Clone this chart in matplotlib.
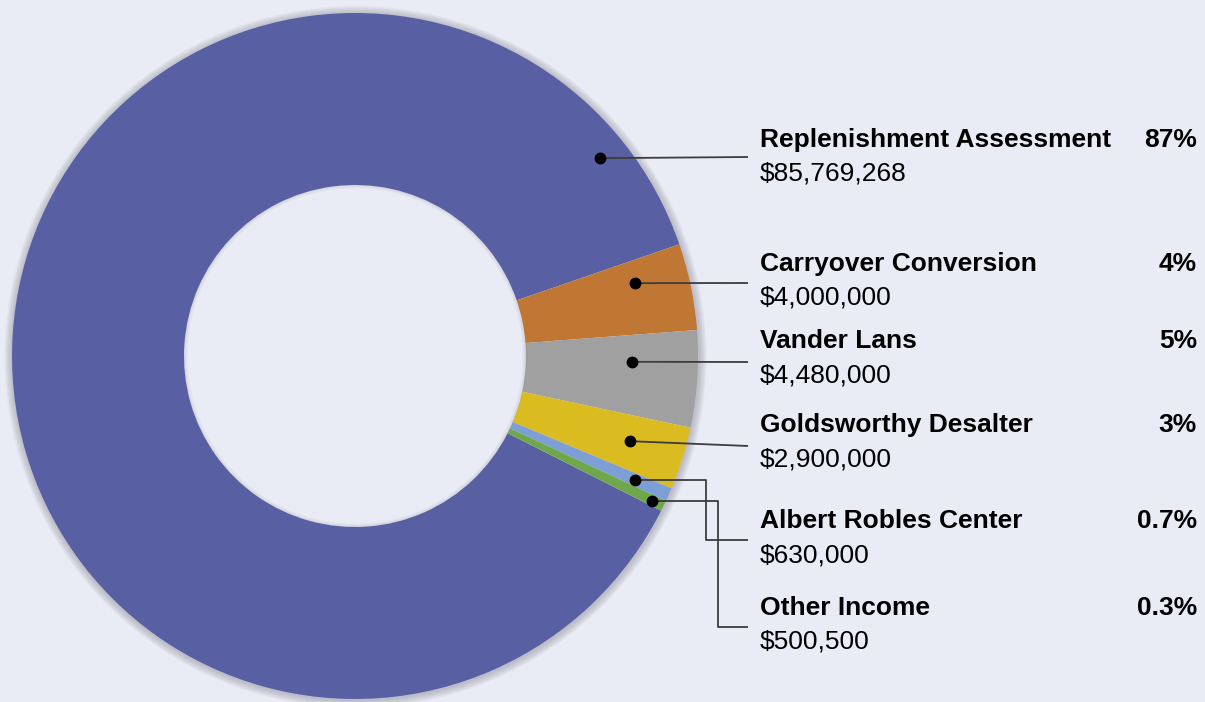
import matplotlib
matplotlib.use("Agg")
import matplotlib.pyplot as plt
from matplotlib.patches import Wedge
import numpy as np

# ---- data ----
categories = ["Replenishment Assessment", "Carryover Conversion", "Vander Lans",
              "Goldsworthy Desalter", "Albert Robles Center", "Other Income"]
amounts = [85769268, 4000000, 4480000, 2900000, 630000, 500500]
amount_labels = ["$85,769,268", "$4,000,000", "$4,480,000", "$2,900,000", "$630,000", "$500,500"]
pct_labels = ["87%", "4%", "5%", "3%", "0.7%", "0.3%"]
colors = ["#5860A3", "#C07733", "#A0A0A0", "#DBBC20", "#7E9FD6", "#6FA84B"]

# ---- layout ----
W, H = 1205, 702
BG = "#E9EBF5"
fig = plt.figure(figsize=(W / 100, H / 100), dpi=100, facecolor=BG)
ax = fig.add_axes([0, 0, 1, 1])
ax.set_facecolor(BG)

def py(y):
    return H - y

cx, cy = 355, py(356)
R, r_in = 343, 171
boundary = 19.0  # angle of the first/second slice boundary
total = sum(amounts)
start = boundary + 360 * amounts[0] / total

# soft shadow ring around outer edge
for i in range(1, 9):
    ax.add_patch(Wedge((cx + 0.5, cy - 1), R + i, 0, 360, width=i + 2,
                       facecolor="#8a8a96", alpha=0.07, edgecolor="none", zorder=0))

wedges, _ = ax.pie(amounts, colors=colors, startangle=start, counterclock=False,
                   radius=R, center=(cx, cy),
                   wedgeprops=dict(width=R - r_in, edgecolor="none", linewidth=0))
for w in wedges:
    w.set_zorder(1)

# inner shadow of hole
for i in range(1, 5):
    ax.add_patch(Wedge((cx, cy), r_in + 0.5, 0, 360, width=i,
                       facecolor="#7a7a88", alpha=0.05, edgecolor="none", zorder=2))

# label anchors (angle deg, radius px)
anchors = [(38.9, 315), (14.6, 289), (-1.2, 277), (-17.2, 288), (-23.9, 306), (-26.0, 330)]
name_y = [140, 264, 341, 425, 521, 608]
value_y = [173, 297, 376, 460, 555, 641]
# leader line paths in pixel coords after the dot
line_paths = [
    [(748, 157)],
    [(748, 283)],
    [(748, 362)],
    [(748, 446)],
    [(706, None), (706, 540), (748, 540)],
    [(718, None), (718, 627), (748, 627)],
]

FONT = ["Liberation Sans", "DejaVu Sans"]
FS = 19
for i, name in enumerate(categories):
    a, rr = anchors[i]
    dx = cx + rr * np.cos(np.radians(a))
    dy = cy + rr * np.sin(np.radians(a))
    xs, ys = [dx], [dy]
    for (px_, py_) in line_paths[i]:
        xs.append(px_)
        ys.append(dy if py_ is None else py(py_))
    ax.plot(xs, ys, color="#3c3c3c", lw=1.3, zorder=4, solid_capstyle="butt")
    ax.plot([dx], [dy], "o", color="black", ms=7.5, zorder=5)
    ax.text(760, py(name_y[i]), name, fontsize=FS, fontweight="bold", family=FONT,
            ha="left", va="center", color="black")
    ax.text(1197, py(name_y[i]), pct_labels[i], fontsize=FS, fontweight="bold", family=FONT,
            ha="right", va="center", color="black")
    ax.text(760, py(value_y[i]), amount_labels[i], fontsize=FS, family=FONT,
            ha="left", va="center", color="black")

ax.set_xlim(0, W)
ax.set_ylim(0, H)
ax.set_aspect("equal")
ax.axis("off")
fig.savefig("out.png", dpi=100, facecolor=BG)
